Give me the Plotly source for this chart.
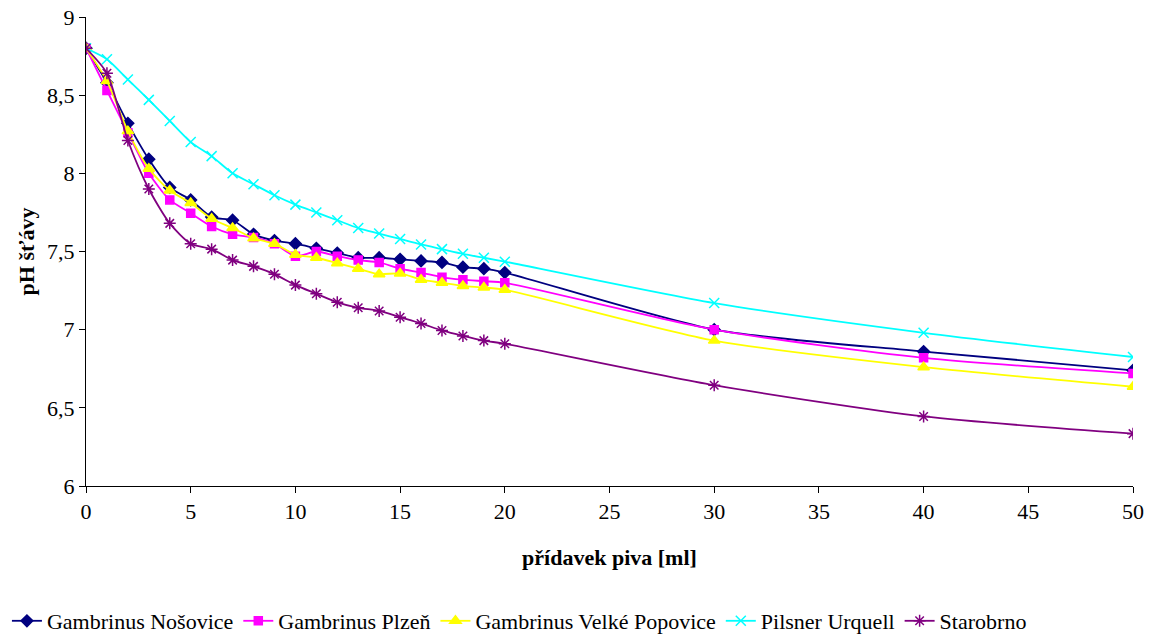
import plotly.graph_objects as go

x_ml = [0, 1, 2, 3, 4, 5, 6, 7, 8, 9, 10, 11, 12, 13, 14, 15, 16, 17, 18, 19, 20, 30, 40, 50]

nosovice = [8.80, 8.58, 8.32, 8.09, 7.91, 7.83, 7.72, 7.70, 7.61, 7.57, 7.55, 7.52, 7.49, 7.46,
            7.46, 7.45, 7.44, 7.43, 7.40, 7.39, 7.365, 7.00, 6.86, 6.74]
plzen = [8.80, 8.53, 8.26, 8.00, 7.83, 7.745, 7.66, 7.61, 7.59, 7.55, 7.47, 7.50, 7.47, 7.445,
         7.43, 7.39, 7.365, 7.335, 7.32, 7.31, 7.30, 7.00, 6.82, 6.72]
popovice = [8.80, 8.59, 8.27, 8.03, 7.89, 7.81, 7.71, 7.65, 7.585, 7.55, 7.48, 7.46, 7.425, 7.39,
            7.355, 7.36, 7.32, 7.30, 7.28, 7.27, 7.255, 6.93, 6.76, 6.635]
urquell = [8.80, 8.73, 8.60, 8.47, 8.335, 8.20, 8.11, 8.00, 7.93, 7.86, 7.80, 7.75, 7.70, 7.65,
           7.615, 7.58, 7.545, 7.515, 7.485, 7.46, 7.435, 7.17, 6.98, 6.825]
starobrno = [8.80, 8.64, 8.21, 7.90, 7.68, 7.55, 7.515, 7.445, 7.405, 7.355, 7.285, 7.23, 7.175, 7.14,
             7.12, 7.08, 7.04, 6.995, 6.96, 6.93, 6.91, 6.645, 6.445, 6.335]

series = [
    ("Gambrinus Nošovice", nosovice, "#000080", "diamond", 9),
    ("Gambrinus Plzeň", plzen, "#FF00FF", "square", 8),
    ("Gambrinus Velké Popovice", popovice, "#FFFF00", "triangle-up", 10),
    ("Pilsner Urquell", urquell, "#00FFFF", "x-thin-open", 10),
    ("Starobrno", starobrno, "#800080", "asterisk-open", 10),
]

fig = go.Figure()
for name, vals, color, sym, size in series:
    fig.add_trace(go.Scatter(
        x=x_ml, y=vals, name=name, mode="lines+markers",
        line=dict(color=color, width=1.8, shape="spline", smoothing=0.7),
        marker=dict(symbol=sym, size=size, color=color,
                    line=dict(color=color, width=1.5)),
    ))

font_family = "Liberation Serif, serif"
fig.update_layout(
    width=1155, height=642,
    margin=dict(l=86, r=22, t=17, b=156),
    paper_bgcolor="white", plot_bgcolor="white",
    separators=", ",
    font=dict(family=font_family, size=22, color="black"),
    showlegend=True,
    legend=dict(orientation="h", x=0.006, xanchor="left", xref="container",
                y=0.0, yanchor="bottom", yref="container",
                font=dict(family=font_family, size=22), itemwidth=30,
                tracegroupgap=0),
    xaxis=dict(range=[0, 50], dtick=5, tick0=0, showgrid=False, zeroline=False,
               showline=True, linecolor="black", linewidth=1, automargin=False,
               ticks="outside", ticklen=6, tickcolor="black",
               tickfont=dict(family=font_family, size=22),
               title=dict(text="<b>přídavek piva [ml]</b>", standoff=26,
                          font=dict(family=font_family, size=22))),
    yaxis=dict(range=[6, 9], dtick=0.5, tick0=6, showgrid=False, zeroline=False,
               showline=True, linecolor="black", linewidth=1, automargin=False,
               ticks="outside", ticklen=6, tickcolor="black",
               tickfont=dict(family=font_family, size=22),
               title=dict(text="<b>pH šťávy</b>", standoff=6,
                          font=dict(family=font_family, size=22))),
)

fig.write_html("out.html")
